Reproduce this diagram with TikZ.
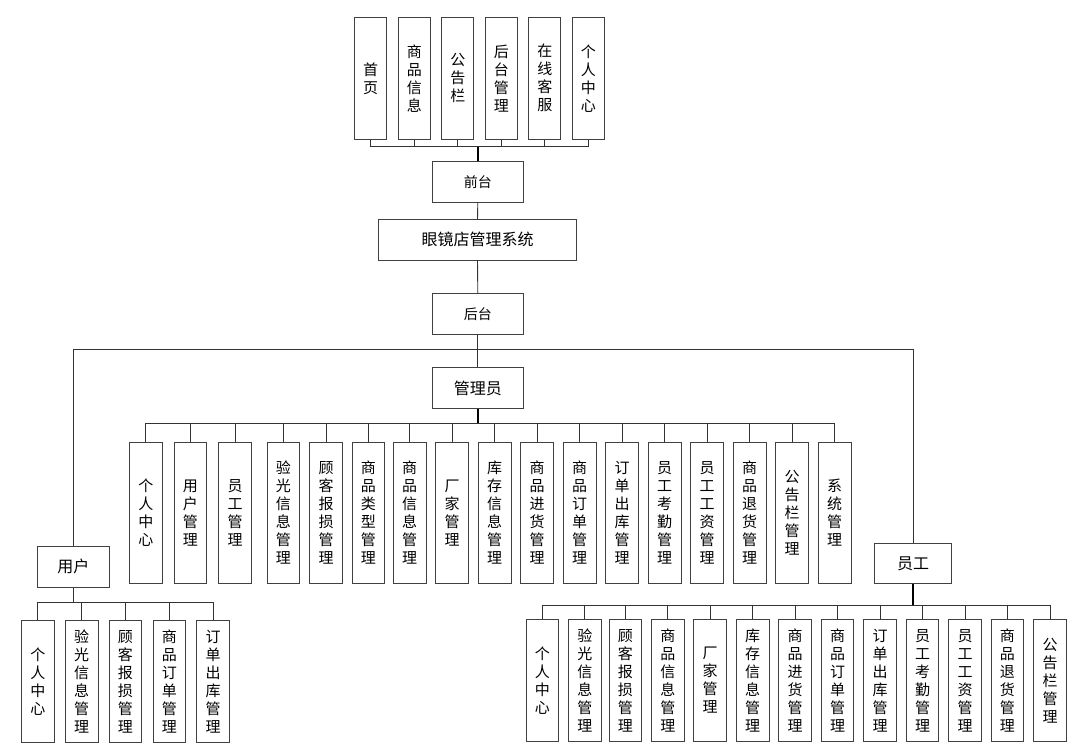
\documentclass[tikz,border=0pt]{standalone}
\usepackage{fontspec}
\setmainfont{Noto Sans CJK SC}
\usepackage{tikz}

\begin{document}
\begin{tikzpicture}[x=1pt, y=-1pt]
          \tikzset{
            BoxStyle/.style = { rectangle, draw = black!75, line width = 0.9pt,
              inner sep = 0pt, align = center, text = black,
              font = \fontsize{15}{18}\selectfont },
            TopBox/.style = { BoxStyle, minimum width = 32pt, minimum height = 122pt },
            MidBox/.style = { BoxStyle, font = \fontsize{14}{18}\selectfont,
              minimum width = 91pt, minimum height = 40.5pt },
            RoleBox/.style = { BoxStyle, font = \fontsize{16}{18}\selectfont,
              minimum height = 41pt },
            AdminBox/.style = { BoxStyle, minimum width = 32.7pt, minimum height = 141.7pt },
            LeafBox/.style = { BoxStyle, minimum width = 32.7pt, minimum height = 121.4pt },
            LinkStyle/.style = { draw = black!80, line width = 0.9pt },
            TrunkStyle/.style = { draw = black, line width = 1.4pt } }

          \useasboundingbox (0,0) rectangle (1089,750);

          % front end
          \node[TopBox] (SY) at (370.7,78.3) {首\\页};
          \node[TopBox] (SPXX) at (414.3,78.3) {商\\品\\信\\息};
          \node[TopBox] (GGL) at (457.8,78.3) {公\\告\\栏};
          \node[TopBox] (HTGL) at (501.3,78.3) {后\\台\\管\\理};
          \node[TopBox] (ZXKF) at (544.8,78.3) {在\\线\\客\\服};
          \node[TopBox] (GRZX) at (588.3,78.3) {个\\人\\中\\心};

          \node[MidBox] (QT) at (477.8,181.8) {前台};
          \node[MidBox, minimum width = 198.4pt, font = \fontsize{16}{18}\selectfont]
            (XT) at (477.5,239.7) {眼镜店管理系统};
          \node[MidBox] (HT) at (477.8,313.8) {后台};

          % roles
          \node[RoleBox, minimum width = 91pt] (GLY) at (477.8,388.2) {管理员};
          \node[RoleBox, minimum width = 71.3pt] (YH) at (73.3,566.8) {用户};
          \node[RoleBox, minimum width = 76.6pt, minimum height = 40.4pt] (YG) at (913,563.5) {员工};

          % admin
          \node[AdminBox] (A-GRZX) at (145.8,512.8) {个\\人\\中\\心};
          \node[AdminBox] (A-YHGL) at (190.3,512.8) {用\\户\\管\\理};
          \node[AdminBox] (A-YGGL) at (235,512.8) {员\\工\\管\\理};
          \node[AdminBox] (A-YGXX) at (283.3,512.8) {验\\光\\信\\息\\管\\理};
          \node[AdminBox] (A-GKBS) at (326,512.8) {顾\\客\\报\\损\\管\\理};
          \node[AdminBox] (A-SPLX) at (368.3,512.8) {商\\品\\类\\型\\管\\理};
          \node[AdminBox] (A-SPXX) at (409.7,512.8) {商\\品\\信\\息\\管\\理};
          \node[AdminBox] (A-CJGL) at (452.2,512.8) {厂\\家\\管\\理};
          \node[AdminBox] (A-KCXX) at (494.7,512.8) {库\\存\\信\\息\\管\\理};
          \node[AdminBox] (A-SPJH) at (537,512.8) {商\\品\\进\\货\\管\\理};
          \node[AdminBox] (A-SPDD) at (579.7,512.8) {商\\品\\订\\单\\管\\理};
          \node[AdminBox] (A-DDCK) at (622.2,512.8) {订\\单\\出\\库\\管\\理};
          \node[AdminBox] (A-YGKQ) at (664.7,512.8) {员\\工\\考\\勤\\管\\理};
          \node[AdminBox] (A-YGGZ) at (707,512.8) {员\\工\\工\\资\\管\\理};
          \node[AdminBox] (A-SPTH) at (749.7,512.8) {商\\品\\退\\货\\管\\理};
          \node[AdminBox] (A-GGL) at (792,512.8) {公\\告\\栏\\管\\理};
          \node[AdminBox] (A-XTGL) at (834.7,512.8) {系\\统\\管\\理};

          % user
          \node[LeafBox] (U-GRZX) at (37.8,681.5) {个\\人\\中\\心};
          \node[LeafBox] (U-YGXX) at (81.7,681.5) {验\\光\\信\\息\\管\\理};
          \node[LeafBox] (U-GKBS) at (125.3,681.5) {顾\\客\\报\\损\\管\\理};
          \node[LeafBox] (U-SPDD) at (169.3,681.5) {商\\品\\订\\单\\管\\理};
          \node[LeafBox] (U-DDCK) at (213,681.5) {订\\单\\出\\库\\管\\理};

          % staff
          \node[LeafBox, minimum width = 32.5pt] (S-GRZX) at (542.3,680.5) {个\\人\\中\\心};
          \node[LeafBox, minimum width = 32.5pt] (S-YGXX) at (584.8,680.5) {验\\光\\信\\息\\管\\理};
          \node[LeafBox, minimum width = 32.5pt] (S-GKBS) at (625.3,680.5) {顾\\客\\报\\损\\管\\理};
          \node[LeafBox, minimum width = 32.5pt] (S-SPXX) at (667.8,680.5) {商\\品\\信\\息\\管\\理};
          \node[LeafBox, minimum width = 32.5pt] (S-CJGL) at (710,680.5) {厂\\家\\管\\理};
          \node[LeafBox, minimum width = 32.5pt] (S-KCXX) at (752.7,680.5) {库\\存\\信\\息\\管\\理};
          \node[LeafBox, minimum width = 32.5pt] (S-SPJH) at (795,680.5) {商\\品\\进\\货\\管\\理};
          \node[LeafBox, minimum width = 32.5pt] (S-SPDD) at (837.5,680.5) {商\\品\\订\\单\\管\\理};
          \node[LeafBox, minimum width = 32.5pt] (S-DDCK) at (880,680.5) {订\\单\\出\\库\\管\\理};
          \node[LeafBox, minimum width = 32.5pt] (S-YGKQ) at (922.5,680.5) {员\\工\\考\\勤\\管\\理};
          \node[LeafBox, minimum width = 32.5pt] (S-YGGZ) at (965,680.5) {员\\工\\工\\资\\管\\理};
          \node[LeafBox, minimum width = 32.5pt] (S-SPTH) at (1007.3,680.5) {商\\品\\退\\货\\管\\理};
          \node[LeafBox, minimum width = 32.5pt] (S-GGL) at (1050,680.5) {公\\告\\栏\\管\\理};

          % bus points
          \coordinate (TopBus) at (477.8,146.7);
          \coordinate (BigBus) at (477.8,349.3);
          \coordinate (AdminBus) at (477.8,423.3);
          \coordinate (UserBus) at (73.3,602.3);
          \coordinate (StaffBus) at (913,605);

          \foreach \n in {SY,SPXX,GGL,HTGL,ZXKF,GRZX}
            \draw[LinkStyle] (TopBus) -| (\n.south);
          \draw[TrunkStyle] (QT.north) -- (TopBus);
          \draw[LinkStyle] (QT.south) -- (XT.north);
          \draw[LinkStyle] (XT.south) -- (HT.north);
          \draw[LinkStyle] (HT.south) -- (BigBus) -- (GLY.north);
          \draw[LinkStyle] (BigBus) -| (YH.north);
          \draw[LinkStyle] (BigBus) -| (YG.north);

          \foreach \n in {A-GRZX,A-YHGL,A-YGGL,A-YGXX,A-GKBS,A-SPLX,A-SPXX,A-CJGL,A-KCXX,
                          A-SPJH,A-SPDD,A-DDCK,A-YGKQ,A-YGGZ,A-SPTH,A-GGL,A-XTGL}
            \draw[LinkStyle] (AdminBus) -| (\n.north);
          \draw[TrunkStyle] (GLY.south) -- (AdminBus);

          \foreach \n in {U-GRZX,U-YGXX,U-GKBS,U-SPDD,U-DDCK}
            \draw[LinkStyle] (UserBus) -| (\n.north);
          \draw[LinkStyle] (YH.south) -- (UserBus);

          \foreach \n in {S-GRZX,S-YGXX,S-GKBS,S-SPXX,S-CJGL,S-KCXX,S-SPJH,
                          S-SPDD,S-DDCK,S-YGKQ,S-YGGZ,S-SPTH,S-GGL}
            \draw[LinkStyle] (StaffBus) -| (\n.north);
          \draw[TrunkStyle] (YG.south) -- (StaffBus);
\end{tikzpicture}
\end{document}
